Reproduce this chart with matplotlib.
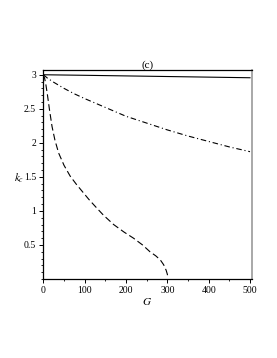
import numpy as np
import matplotlib
matplotlib.use("Agg")
import matplotlib.pyplot as plt
from matplotlib.ticker import MultipleLocator

plt.rcParams['font.family'] = ['Liberation Serif', 'DejaVu Serif']
plt.rcParams['mathtext.fontset'] = 'stix'

# ---- values ----
G_solid = [0, 100, 200, 300, 400, 500]
k_solid = [3.0, 2.992, 2.983, 2.974, 2.965, 2.956]

G_dashdot = [0, 10, 25, 50, 75, 100, 150, 200, 250, 300, 350, 400, 450, 500]
k_dashdot = [3.0, 2.95, 2.89, 2.80, 2.72, 2.65, 2.52, 2.39, 2.29, 2.19, 2.10, 2.02, 1.94, 1.87]

G_dashed = [0, 3, 6, 10, 15, 21, 28, 37, 50, 65, 80, 95, 110, 125, 145, 170,
            195, 218, 240, 258, 272, 283, 291, 297, 300, 301]
k_dashed = [3.0, 2.95, 2.86, 2.70, 2.48, 2.24, 2.04, 1.85, 1.67, 1.51, 1.39, 1.28,
            1.17, 1.07, 0.94, 0.80, 0.69, 0.60, 0.50, 0.40, 0.34, 0.28, 0.21, 0.13, 0.07, 0.03]

x_ticks = [0, 100, 200, 300, 400, 500]
y_ticks = [0.5, 1, 1.5, 2, 2.5, 3]

fig = plt.figure(figsize=(2.77, 3.58), dpi=100)
ax = fig.add_axes([0.155, 0.2207, 0.755, 0.5838])

ax.plot(G_solid, k_solid, color='black', lw=0.8)
ax.plot(G_dashdot, k_dashdot, color='black', lw=0.8, dashes=(5, 2.5, 1, 2.5))
ax.plot(G_dashed, k_dashed, color='black', lw=0.8, dashes=(6, 3))

ax.set_xlim(-1, 505)
ax.set_ylim(0, 3.07)
ax.set_xticks(x_ticks)
ax.set_yticks(y_ticks)
ax.set_yticklabels(['0.5', '1', '1.5', '2', '2.5', '3'])
ax.xaxis.set_minor_locator(MultipleLocator(50))
ax.yaxis.set_minor_locator(MultipleLocator(0.1))
ax.tick_params(which='major', direction='out', length=3, width=0.7, labelsize=7, pad=2)
ax.tick_params(which='minor', direction='out', length=1.5, width=0.6)

for s in ['left', 'bottom', 'top']:
    ax.spines[s].set_linewidth(0.9)
ax.spines['right'].set_color('#999999')
ax.spines['right'].set_linewidth(1.2)

ax.set_title('(c)', fontsize=8, pad=1)
ax.set_xlabel('$G$', fontsize=8, labelpad=1)
fig.text(0.07, 0.502, '$k_c$', fontsize=8, ha='center', va='center')

fig.savefig('out.png', dpi=100)
